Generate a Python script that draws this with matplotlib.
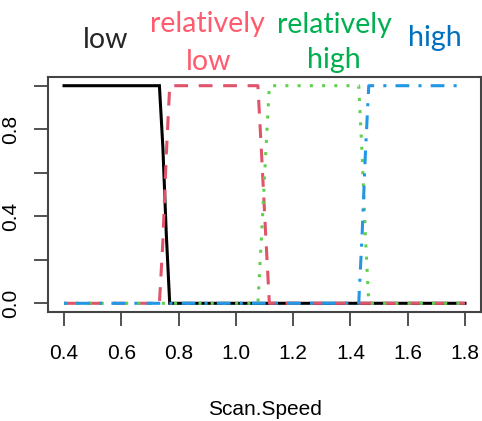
"""
Class probability vs scan speed (matplot style chart)
"""

import matplotlib
matplotlib.use('Agg')
import matplotlib.pyplot as plt

# data
speed = [0.40, 0.733, 0.745, 0.757, 0.769, 1.077, 1.090, 1.104, 1.117,
         1.429, 1.441, 1.452, 1.464, 1.80]
p_low = [1, 1, 0.72, 0.32, 0, 0, 0, 0, 0, 0, 0, 0, 0, 0]
p_rel_low = [0, 0, 0.28, 0.68, 1, 1, 0.68, 0.32, 0, 0, 0, 0, 0, 0]
p_rel_high = [0, 0, 0, 0, 0, 0, 0.32, 0.68, 1, 1, 0.68, 0.32, 0, 0]
p_high = [0, 0, 0, 0, 0, 0, 0, 0, 0, 0, 0.32, 0.68, 1, 1]

xticks = [0.4, 0.6, 0.8, 1.0, 1.2, 1.4, 1.6, 1.8]
yticks = [0.0, 0.2, 0.4, 0.6, 0.8, 1.0]
ytick_labels = ['0.0', '', '0.4', '', '0.8', '']

W, H = 482, 421
fig = plt.figure(figsize=(W / 100, H / 100), dpi=100)
ax = fig.add_axes([48 / W, 1 - 312 / H, (481 - 48) / W, (312 - 77) / H])

lw = 2.2
ax.plot(speed, p_low, color='black', lw=lw, solid_joinstyle='miter')
ax.plot(speed, p_rel_low, color='#DF536B', lw=lw, dashes=(4.5, 3.5))
ax.plot(speed, p_rel_high, color='#61D04F', lw=lw, dashes=(1, 3))
ax.plot(speed, p_high, color='#2297E6', lw=lw, dashes=(1, 3, 4.5, 3))

ax.set_xlim(0.344, 1.856)
ax.set_ylim(-0.04, 1.04)

tick_font = ['Liberation Sans Narrow', 'Liberation Sans', 'DejaVu Sans']
ax.set_xticks(xticks)
ax.set_xticklabels([f'{v:.1f}' for v in xticks], family=tick_font, fontsize=15)
ax.set_yticks(yticks)
ax.set_yticklabels(ytick_labels, family=tick_font, fontsize=15, rotation=90, va='center')
ax.tick_params(axis='both', length=10, width=1.2, color='#333333')
ax.tick_params(axis='x', pad=13)
ax.tick_params(axis='y', pad=10)
ax.set_xlabel('Scan.Speed', family=tick_font, fontsize=15, labelpad=27)

for s in ax.spines.values():
    s.set_color('#444444')
    s.set_linewidth(1.5)

# class labels pasted above the plot
label_font = ['Lato', 'DejaVu Sans']
fs = 20.5
def put(txt, x, y, color):
    fig.text(x / W, 1 - y / H, txt, color=color, fontsize=fs, family=label_font,
             ha='center', va='baseline')

put('low', 106, 48, '#262626')
put('relatively', 207, 32, '#FF5B6E')
put('low', 209, 70, '#FF5B6E')
put('relatively', 334, 33, '#00B050')
put('high', 334, 68, '#00B050')
put('high', 435, 46, '#0070C0')

fig.savefig('out.png', dpi=100)
plt.close(fig)
